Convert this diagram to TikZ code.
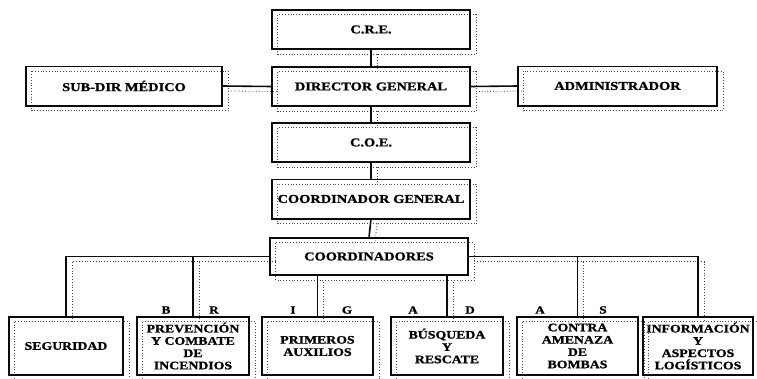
\documentclass[tikz,border=0pt]{standalone}
\usepackage{fontspec}
\setmainfont{Liberation Serif}
\newfontfamily\orgfont{Liberation Serif}[FakeStretch=1.2,FakeBold=1.2]
\usepackage{tikz}
\usetikzlibrary{positioning,calc}
\definecolor{inkBlack}{RGB}{10,10,10}
\definecolor{ghostGray}{RGB}{70,70,70}
\tikzset{
  unit/.style={minimum width=198pt, minimum height=39pt, inner sep=0pt, align=center,
               font=\orgfont\bfseries\fontsize{12}{14}\selectfont},
  brigada/.style={unit, minimum width=112pt, minimum height=58pt,
               font=\orgfont\bfseries\fontsize{11.5}{12.3}\selectfont},
  letra/.style={inner sep=0pt, font=\orgfont\bfseries\fontsize{11}{12}\selectfont},
  inklayer/.style={draw=inkBlack, line width=1.6pt},
  ghostlayer/.style={draw=ghostGray, dotted, line width=0.8pt,
               transform canvas={shift={(6pt,-5pt)}}}
}
\begin{document}
\begin{tikzpicture}[x=1pt, y=-1pt]
\useasboundingbox (0,0) rectangle (757,378);
\node[unit] (cre) at (371,29.5) {C.R.E.};
\node[unit] (dg) at (371,86.5) {DIRECTOR GENERAL};
\node[unit, minimum width=196pt] (sub) at (124,86) {SUB-DIR MÉDICO};
\node[unit, minimum width=199pt] (adm) at (617.5,86) {ADMINISTRADOR};
\node[unit] (coe) at (371,142.5) {C.O.E.};
\node[unit] (cg) at (371,199) {COORDINADOR GENERAL};
\node[unit, minimum height=37pt] (coord) at (369,256.5) {COORDINADORES};
\node[brigada, minimum width=114pt] (seg) at (66,346) {SEGURIDAD};
\node[brigada] (prev) at (193,346) {PREVENCIÓN\\Y COMBATE\\DE\\INCENDIOS};
\node[brigada, minimum width=111pt] (prim) at (317.5,346) {PRIMEROS\\AUXILIOS};
\node[brigada] (busq) at (447,346) {BÚSQUEDA\\Y\\RESCATE};
\node[brigada, minimum width=121pt] (contra) at (577.5,346) {CONTRA\\AMENAZA\\DE\\BOMBAS};
\node[brigada, minimum width=110pt] (info) at (698,346) {INFORMACIÓN\\Y\\ASPECTOS\\LOGÍSTICOS};
\foreach \lx/\lt [count=\i] in {166/B,214/R,293/I,347/G,413/A,470/D,540/A,603/S}
  \node[letra] (letra\i) at (\lx,310) {\lt};
\foreach \lay in {ghostlayer,inklayer}{
  \begin{scope}[\lay]
    \foreach \n in {cre,dg,sub,adm,coe,cg,coord,seg,prev,prim,busq,contra,info}
      \draw (\n.north west) rectangle (\n.south east);
    \draw (cre.south) -- (dg.north);
    \draw (sub.east) -- (dg.west);
    \draw (dg.east) -- (adm.west);
    \draw (dg.south) -- (coe.north);
    \draw (coe.south) -- (cg.north);
    \draw (cg.south) -- (coord.north);
    \draw (coord.west) -| (seg.north);
    \draw (prev.north) -- (prev.north |- coord.west);
    \draw (prim.north) -- (prim.north |- coord.south);
    \draw (busq.north) -- (busq.north |- coord.south);
    \draw (coord.east) -| (info.north);
    \draw (contra.north) -- (contra.north |- coord.east);
  \end{scope}
}
\end{tikzpicture}
\end{document}
